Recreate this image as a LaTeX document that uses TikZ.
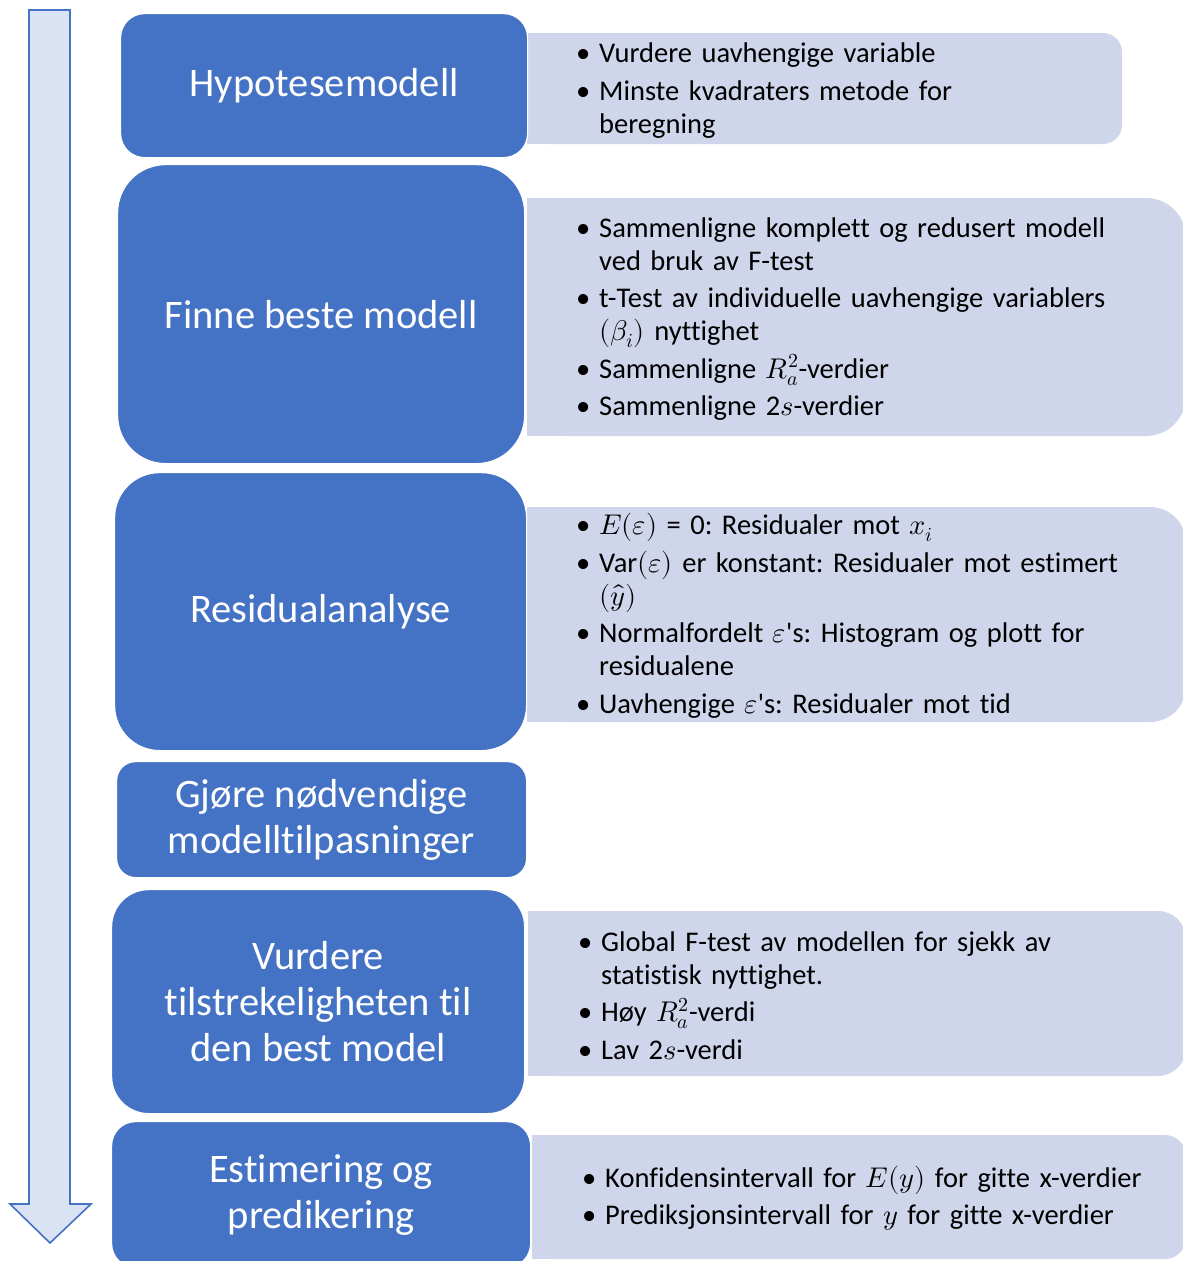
\documentclass[tikz,border=0pt]{standalone}
\usepackage{fontspec}
\usepackage{unicode-math}
\setmainfont{Carlito}[Ligatures={NoCommon}]
\setmathfont{Latin Modern Math}
\definecolor{darkblue}{HTML}{4472C4}
\definecolor{lightbox}{HTML}{CFD5EA}
\definecolor{arrowfill}{HTML}{DAE3F3}
\newcommand\bitf[1]{\lineskiplimit=-50pt\relax\frenchspacing\par\noindent\hangindent=23pt\hangafter=1\makebox[23pt][l]{\textbullet}#1\par}
\newcommand\bit[1]{\par\vspace{4.5pt}\noindent\hangindent=23pt\hangafter=1\makebox[23pt][l]{\textbullet}#1\par}
\tikzset{
  darkbox/.style={draw=white, line width=1.2pt, fill=darkblue, text=white,
    font=\fontsize{40.5}{46}\selectfont, align=center, inner sep=0pt, anchor=north west},
  lightbg/.style={fill=lightbox, inner sep=0pt, outer sep=0pt, anchor=north west},
  listtext/.style={anchor=west, inner sep=0pt, text width=600pt, align=left, yshift=4.5pt,
    font=\fontsize{28.5}{33}\selectfont},
  flowarrow/.style={draw=darkblue, line width=1.6pt, fill=arrowfill, line join=miter},
}
\begin{document}
\begin{tikzpicture}[x=1pt,y=-1pt]
\useasboundingbox (0,0) rectangle (1183,1261);
% flow arrow
\draw[flowarrow] (29,10) -- (70,10) -- (70,1204) -- (91,1204) -- (50,1243) -- (10,1204) -- (29,1204) -- cycle;

% light boxes
\node[lightbg, rounded corners=19pt, minimum width=595pt, minimum height=111pt] (l1) at (527,33) {};
\fill[lightbox] (l1.north west) rectangle (l1.south);
\node[lightbg, rounded corners=40pt, minimum width=659pt, minimum height=238pt] (l2) at (527,198) {};
\fill[lightbox] (l2.north west) rectangle (l2.south);
\node[lightbg, rounded corners=36pt, minimum width=659pt, minimum height=215pt] (l3) at (527,507) {};
\fill[lightbox] (l3.north west) rectangle (l3.south);
\node[lightbg, rounded corners=28pt, minimum width=658pt, minimum height=165pt] (l5) at (528,911) {};
\fill[lightbox] (l5.north west) rectangle (l5.south);
\node[lightbg, rounded corners=21pt, minimum width=654pt, minimum height=124pt] (l6) at (532,1135) {};
\fill[lightbox] (l6.north west) rectangle (l6.south);

% dark boxes
\node[darkbox, rounded corners=24pt, minimum width=407pt, minimum height=144pt] (d1) at (120,13) {Hypotesemodell};
\node[darkbox, rounded corners=48pt, minimum width=407pt, minimum height=299pt] (d2) at (117,164) {Finne beste modell};
\node[darkbox, rounded corners=45pt, minimum width=412pt, minimum height=278pt] (d3) at (114,472) {Residualanalyse};
\node[darkbox, rounded corners=19pt, minimum width=410pt, minimum height=116pt] (d4) at (116,761) {Gjøre nødvendige\\modelltilpasninger};
\node[darkbox, rounded corners=37pt, minimum width=413pt, minimum height=224pt] (d5) at (111,889) {Vurdere\\tilstrekeligheten til\\den best model};
\node[darkbox, rounded corners=24pt, minimum width=419pt, minimum height=146pt] (d6) at (111,1121) {Estimering og\\predikering};

% list texts
\node[listtext] (t1) at ([xshift=49pt]l1.west) {%
  \bitf{Vurdere uavhengige variable}%
  \bit{Minste kvadraters metode for\newline beregning}};
\node[listtext] (t2) at ([xshift=49pt]l2.west) {%
  \bitf{Sammenligne komplett og redusert modell\newline ved bruk av F-test}%
  \bit{t-Test av individuelle uavhengige variablers\newline $(\beta_i)$ nyttighet}%
  \bit{Sammenligne $R_a^2$-verdier}%
  \bit{Sammenligne 2$s$-verdier}};
\node[listtext] (t3) at ([xshift=49pt]l3.west) {%
  \bitf{$E(\varepsilon)$ = 0: Residualer mot $x_i$}%
  \bit{Var$(\varepsilon)$ er konstant: Residualer mot estimert\newline $(\hat{y})$}%
  \bit{Normalfordelt $\varepsilon$\textquotesingle s: Histogram og plott for\newline residualene}%
  \bit{Uavhengige $\varepsilon$\textquotesingle s: Residualer mot tid}};
\node[listtext] (t5) at ([xshift=50pt]l5.west) {%
  \bitf{Global F-test av modellen for sjekk av\newline statistisk nyttighet.}%
  \bit{Høy $R_a^2$-verdi}%
  \bit{Lav 2$s$-verdi}};
\node[listtext] (t6) at ([xshift=50pt]l6.west) {%
  \bitf{Konfidensintervall for $E(y)$ for gitte x-verdier}%
  \bit{Prediksjonsintervall for $y$ for gitte x-verdier}};
\end{tikzpicture}
\end{document}
